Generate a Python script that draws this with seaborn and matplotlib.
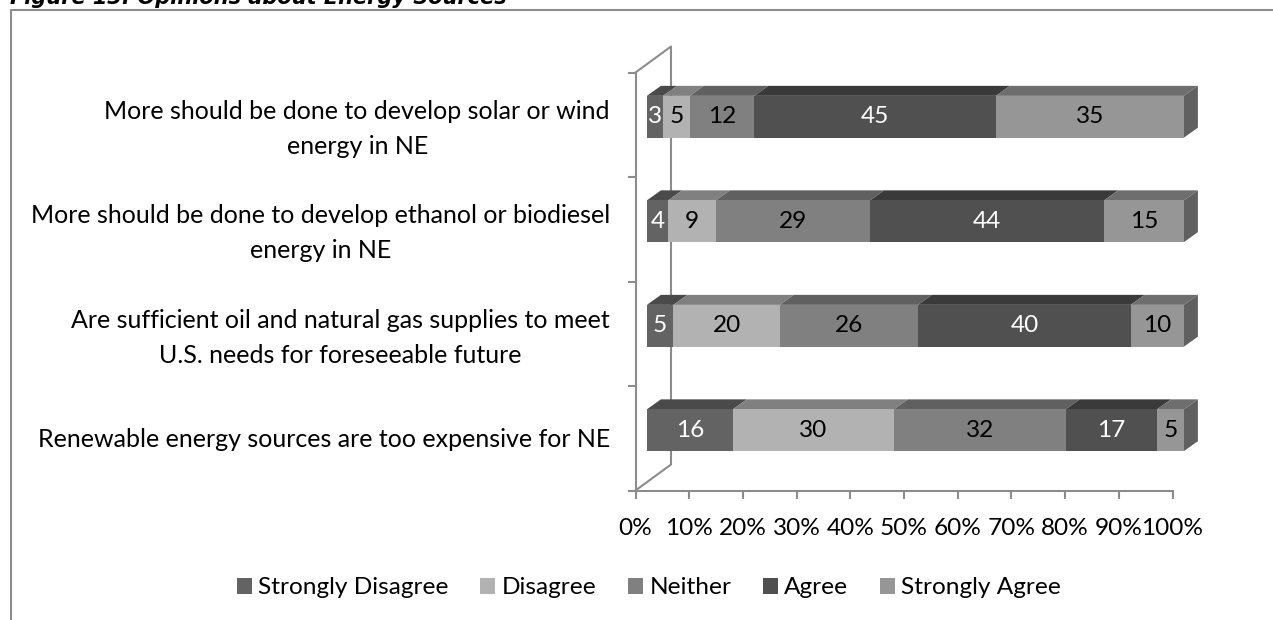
import pandas as pd
import matplotlib
matplotlib.use('Agg')
import matplotlib.pyplot as plt
from matplotlib.lines import Line2D
from matplotlib.patches import Patch, Polygon
from matplotlib.transforms import Affine2D
import seaborn as sns

W, H = 1273, 620

questions = [
    'More should be done to develop solar or wind\nenergy in NE',
    'More should be done to develop ethanol or biodiesel\nenergy in NE',
    'Are sufficient oil and natural gas supplies to meet\nU.S. needs for foreseeable future',
    'Renewable energy sources are too expensive for NE',
]
responses = ['Strongly Disagree', 'Disagree', 'Neither', 'Agree', 'Strongly Agree']
strongly_disagree = [3, 4, 5, 16]
disagree = [5, 9, 20, 30]
neither = [12, 29, 26, 32]
agree = [45, 44, 40, 17]
strongly_agree = [35, 15, 10, 5]
x_ticks = [0, 10, 20, 30, 40, 50, 60, 70, 80, 90, 100]

front_colors = ['#636363', '#b2b2b2', '#808080', '#505050', '#969696']
top_colors = ['#4a4a4a', '#808080', '#606060', '#3a3a3a', '#6e6e6e']
text_colors = ['white', 'black', 'black', 'white', 'black']
side_color = '#606060'
wall_color = '#8c8c8c'
font_size = 17.6

sns.set_theme(style='white')
plt.rcParams['font.family'] = ['Lato', 'DejaVu Sans']

fig = plt.figure(figsize=(W / 100, H / 100), dpi=100)
# front plane of the axes box, in pixels of the reference
x0, x1, y_top, y_bot = 635.5, 1172.5, 72.5, 490.5
ax = fig.add_axes([x0 / W, 1 - y_bot / H, (x1 - x0) / W, (y_bot - y_top) / H])

df = pd.DataFrame({'question': questions})
for name, vals in zip(responses, [strongly_disagree, disagree, neither, agree, strongly_agree]):
    df[name] = vals
# Excel normalises each row to 100%
totals = df[responses].sum(axis=1)
shares = df[responses].div(totals, axis=0) * 100
lefts = shares.cumsum(axis=1).shift(1, axis=1).fillna(0)

# pixel sizes for the fake 3D look
bar_shift = (11.4, 8)
depth = (14, 10)
wall = (35.5, 26)
px_x = (x1 - x0) / 100
px_y = (y_bot - y_top) / 4
shift = ax.transData + Affine2D().translate(*bar_shift)
bar_h = 0.4

for i, name in enumerate(responses):
    sns.barplot(data=shares.assign(question=questions), y='question', x=name, left=lefts[name].values,
                color=front_colors[i], saturation=1, width=bar_h, orient='h', ax=ax, zorder=4, linewidth=0)
for p in ax.patches:
    p.set_transform(shift)
    p.set_clip_on(False)

ddx, ddy = depth[0] / px_x, depth[1] / px_y
for row in range(len(questions)):
    upper, lower = row - bar_h / 2, row + bar_h / 2
    for i, name in enumerate(responses):
        l = lefts[name].iloc[row]
        r = l + shares[name].iloc[row]
        ax.add_patch(Polygon([(l, upper), (r, upper), (r + ddx, upper - ddy), (l + ddx, upper - ddy)],
                             facecolor=top_colors[i], edgecolor='none', transform=shift, zorder=3, clip_on=False))
        ax.annotate(str(df[name].iloc[row]), ((l + r) / 2, row), xycoords=shift, ha='center', va='center',
                    fontsize=font_size, color=text_colors[i], zorder=6)
    ax.add_patch(Polygon([(100, upper), (100 + ddx, upper - ddy), (100 + ddx, lower - ddy), (100, lower)],
                         facecolor=side_color, edgecolor='none', transform=shift, zorder=3, clip_on=False))

ax.set_xlim(0, 100)
ax.set_ylim(3.5, -0.5)
ax.set_xticks(x_ticks)
ax.set_xticklabels([f'{t}%' for t in x_ticks], fontsize=font_size, color='black')
ax.set_yticks([-0.5, 0.5, 1.5, 2.5, 3.5])
ax.set_yticklabels([])
ax.tick_params(axis='both', length=5.8, width=1.5, color=wall_color, bottom=True, left=True, pad=14)
ax.set_xlabel('')
ax.set_ylabel('')
for side in ['top', 'right']:
    ax.spines[side].set_visible(False)
for side in ['left', 'bottom']:
    ax.spines[side].set_color(wall_color)
    ax.spines[side].set_linewidth(1.5)

# side wall behind the bars
wx = wall[0] / px_x
wy = wall[1] / px_y
ax.add_line(Line2D([0, wx, wx, 0], [-0.5, -0.5 - wy, 3.5 - wy, 3.5], color=wall_color, lw=1.5,
                   clip_on=False, zorder=2))

for row, q in enumerate(questions):
    ax.annotate(q, xy=(0, row), xycoords=ax.get_yaxis_transform(), xytext=(610 - x0, -4 if '\n' in q else -1),
                textcoords='offset pixels', ha='right', va='center', fontsize=18, color='black',
                multialignment='center', linespacing=1.65)

handles = [Patch(facecolor=c, edgecolor='none') for c in front_colors]
fig.legend(handles, responses, loc='center', bbox_to_anchor=(649 / W, 1 - 588 / H), ncol=5, frameon=False,
           fontsize=font_size, handlelength=0.62, handleheight=0.62, handletextpad=0.25, columnspacing=1.3,
           labelcolor='black')

# chart frame, cut by the picture on the right and at the bottom
fig.add_artist(Line2D([11 / W, 11 / W, 1], [0, 1 - 10 / H, 1 - 10 / H], color=wall_color, lw=1.5))
fig.text(10 / W, 1 + 2 / H, 'Figure 13: Opinions about Energy Sources', fontsize=15, fontweight='bold',
         fontstyle='italic', color='black', va='center', ha='left', family='DejaVu Sans')

fig.savefig('out.png', dpi=100)
